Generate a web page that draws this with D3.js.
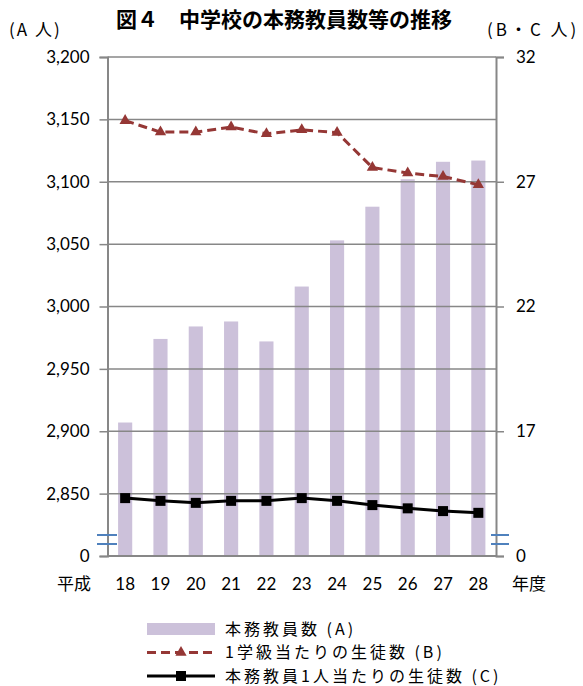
<!DOCTYPE html>
<html>
<head>
<meta charset="utf-8">
<script src="https://cdn.jsdelivr.net/npm/d3@7"></script>
<style>
  body { margin: 0; background: #fff; }
  svg text { fill: #000; }
</style>
</head>
<body>
<svg id="chart" width="583" height="686"></svg>
<script>
const years = ["18", "19", "20", "21", "22", "23", "24", "25", "26", "27", "28"];
const teachers = [2907, 2974, 2984, 2988, 2972, 3016, 3053, 3080, 3102, 3116, 3117];   // A
const perClass = [29.45, 28.99, 28.99, 29.19, 28.92, 29.08, 28.97, 27.57, 27.35, 27.21, 26.88]; // B
const perTeacher = [14.32, 14.21, 14.13, 14.21, 14.21, 14.32, 14.21, 14.04, 13.91, 13.80, 13.73]; // C
const leftTicks = [2800, 2850, 2900, 2950, 3000, 3050, 3100, 3150, 3200];
const rightTicks = [12, 17, 22, 27, 32];
const legendLabels = ["本務教員数 (A)", "1学級当たりの生徒数 (B)", "本務教員1人当たりの生徒数 (C)"];

const plotL = 107.5, plotR = 496, plotT = 57, plotB = 556;
const numFont = "Lato, 'Open Sans', sans-serif";
const jpFont = "'Noto Sans CJK JP', sans-serif";
const gridColor = "#878787";

const svg = d3.select("#chart");

const x = d3.scaleBand().domain(years).range([plotL, plotR])
    .paddingInner(0.6).paddingOuter(0.3);
const yL = d3.scaleLinear().domain([2800, 3200]).range([plotB, plotT]);
const yR = d3.scaleLinear().domain([12, 32]).range([plotB, plotT]);
const cx = d => x(d) + x.bandwidth() / 2;

// bars
svg.append("g").selectAll("rect")
  .data(years)
  .enter().append("rect")
  .attr("x", d => x(d))
  .attr("width", x.bandwidth())
  .attr("y", (d, i) => yL(teachers[i]))
  .attr("height", (d, i) => plotB - yL(teachers[i]))
  .attr("fill", "#ccc1da");

// gridlines (drawn over the bars like the original)
svg.append("g").selectAll("line")
  .data(leftTicks.slice(1))
  .enter().append("line")
  .attr("x1", plotL).attr("x2", plotR)
  .attr("y1", d => yL(d)).attr("y2", d => yL(d))
  .attr("stroke", gridColor).attr("stroke-width", 1.5);

// left axis
const axisL = d3.axisLeft(yL).tickValues(leftTicks).tickSize(8).tickPadding(10)
  .tickFormat(d => d === 2800 ? "0" : d3.format(",")(d));
const gL = svg.append("g").attr("transform", `translate(${plotL},0)`).call(axisL);

// right axis
const axisR = d3.axisRight(yR).tickValues(rightTicks).tickSize(8).tickPadding(12)
  .tickFormat(d => d === 12 ? "0" : d);
const gR = svg.append("g").attr("transform", `translate(${plotR},0)`).call(axisR);

[gL, gR].forEach(g => {
  g.select(".domain").attr("stroke", gridColor).attr("stroke-width", 2);
  g.selectAll(".tick line").attr("stroke", gridColor).attr("stroke-width", 1.5);
  g.selectAll(".tick text").attr("font-family", numFont).attr("font-size", 17).attr("fill", "#000");
});

// bottom axis line
svg.append("line")
  .attr("x1", plotL).attr("x2", plotR)
  .attr("y1", plotB).attr("y2", plotB)
  .attr("stroke", gridColor).attr("stroke-width", 2);

// x labels
svg.append("g").selectAll("text")
  .data(years)
  .enter().append("text")
  .attr("x", d => cx(d))
  .attr("y", 590)
  .attr("text-anchor", "middle")
  .attr("font-family", numFont)
  .attr("font-size", 17)
  .text(d => d);
svg.append("text").attr("x", 57).attr("y", 590)
  .attr("font-family", jpFont).attr("font-size", 17).text("平成");
svg.append("text").attr("x", 512).attr("y", 590)
  .attr("font-family", jpFont).attr("font-size", 17).text("年度");

// axis break marks
[[97, 117], [491, 509]].forEach(([a, b]) => {
  [535, 544].forEach(yy => {
    svg.append("line").attr("x1", a).attr("x2", b).attr("y1", yy).attr("y2", yy)
      .attr("stroke", "#4f81bd").attr("stroke-width", 2);
  });
});

// line B (per class)
const lineB = d3.line().x((d, i) => cx(years[i])).y(d => yR(d));
svg.append("path").datum(perClass)
  .attr("d", lineB)
  .attr("fill", "none")
  .attr("stroke", "#953735")
  .attr("stroke-width", 3)
  .attr("stroke-dasharray", "9,5");
const tri = d3.symbol().type(d3.symbolTriangle).size(55);
svg.append("g").selectAll("path")
  .data(perClass)
  .enter().append("path")
  .attr("d", tri)
  .attr("transform", (d, i) => `translate(${cx(years[i])},${yR(d)})`)
  .attr("fill", "#953735");

// line C (per teacher)
const lineC = d3.line().x((d, i) => cx(years[i])).y(d => yR(d));
svg.append("path").datum(perTeacher)
  .attr("d", lineC)
  .attr("fill", "none")
  .attr("stroke", "#000")
  .attr("stroke-width", 3);
svg.append("g").selectAll("rect")
  .data(perTeacher)
  .enter().append("rect")
  .attr("x", (d, i) => cx(years[i]) - 5)
  .attr("y", d => yR(d) - 5)
  .attr("width", 10).attr("height", 10)
  .attr("fill", "#000");

// title + unit labels
svg.append("text").attr("x", 284).attr("y", 27)
  .attr("text-anchor", "middle")
  .attr("font-family", jpFont).attr("font-weight", "bold").attr("font-size", 21)
  .text("図４　中学校の本務教員数等の推移");
svg.append("text").attr("x", 9).attr("y", 36)
  .attr("font-family", jpFont).attr("font-size", 17).attr("letter-spacing", 2)
  .text("(A 人)");
svg.append("text").attr("x", 487).attr("y", 36)
  .attr("font-family", jpFont).attr("font-size", 17).attr("letter-spacing", 3)
  .text("(B・C 人)");

// legend
const leg = svg.append("g");
const legY = [629, 652.5, 676];
leg.append("rect").attr("x", 147).attr("y", legY[0] - 6).attr("width", 68).attr("height", 12)
  .attr("fill", "#ccc1da");
leg.append("line").attr("x1", 147).attr("x2", 215).attr("y1", legY[1]).attr("y2", legY[1])
  .attr("stroke", "#953735").attr("stroke-width", 3).attr("stroke-dasharray", "9,5");
leg.append("path").attr("d", tri).attr("transform", `translate(181,${legY[1]})`).attr("fill", "#953735");
leg.append("line").attr("x1", 147).attr("x2", 215).attr("y1", legY[2]).attr("y2", legY[2])
  .attr("stroke", "#000").attr("stroke-width", 3);
leg.append("rect").attr("x", 176).attr("y", legY[2] - 5).attr("width", 10).attr("height", 10).attr("fill", "#000");
leg.selectAll("text")
  .data(legendLabels)
  .enter().append("text")
  .attr("x", 225)
  .attr("y", (d, i) => legY[i] + 5.5)
  .attr("font-family", jpFont).attr("font-size", 16).attr("letter-spacing", 3)
  .text(d => d);
</script>
</body>
</html>
